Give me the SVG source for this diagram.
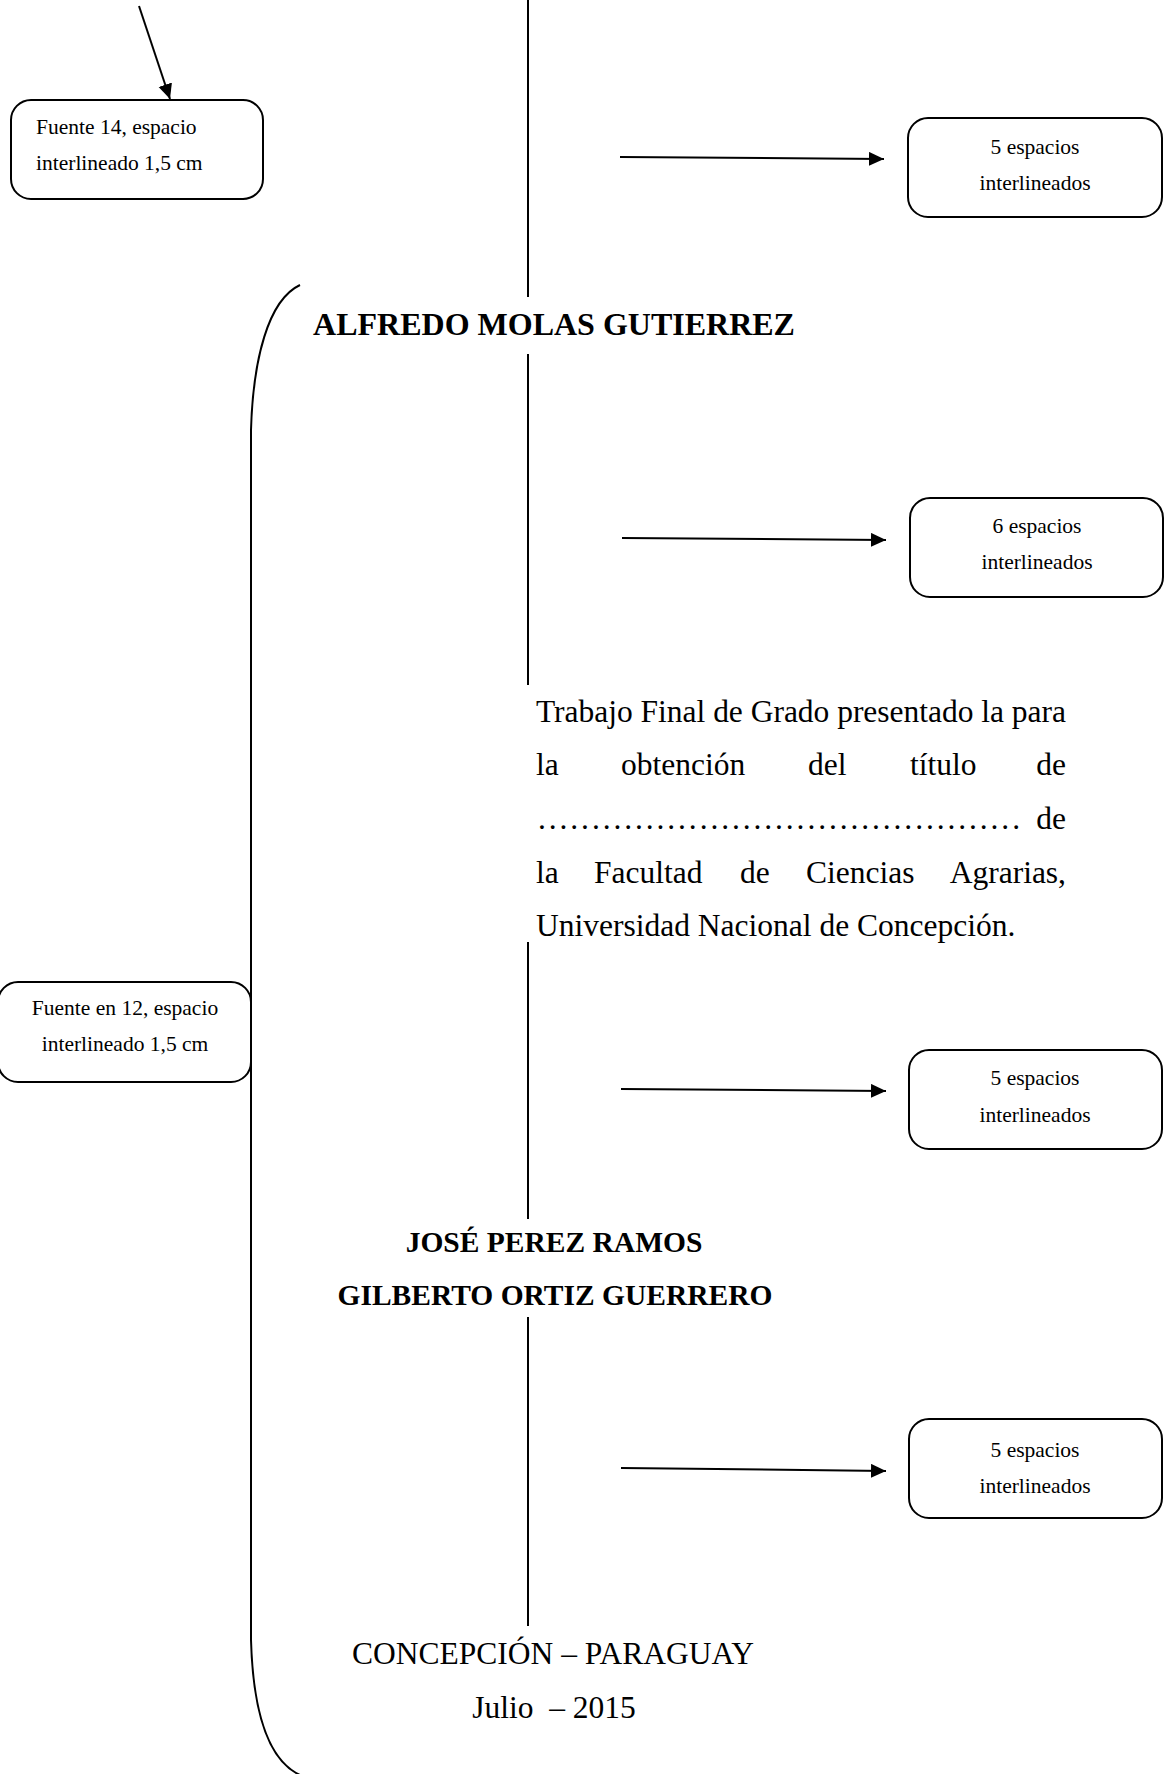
<svg xmlns="http://www.w3.org/2000/svg" width="1168" height="1774" viewBox="0 0 1168 1774">
<defs>
<marker id="ah" markerUnits="userSpaceOnUse" markerWidth="16" markerHeight="15" refX="15" refY="7" orient="auto">
<path d="M0,0 L15,7 L0,14 Z" fill="#000"/>
</marker>
<style>
.box{fill:#fff;stroke:#000;stroke-width:2}
.sm{font-family:"Liberation Serif","Times New Roman",serif;font-size:21.5px;fill:#000}
.c{text-anchor:middle}
.arr{stroke:#000;stroke-width:2;fill:none;marker-end:url(#ah)}
.vl{stroke:#000;stroke-width:2}
.bd{font-family:"Liberation Serif","Times New Roman",serif;font-weight:bold;fill:#000}
.rg{font-family:"Liberation Serif","Times New Roman",serif;font-size:31.5px;fill:#000}
</style>
</defs>
<rect width="1168" height="1774" fill="#fff"/>
<g id="connectors">
<line class="arr" x1="139" y1="6" x2="170" y2="99"/>
<line class="arr" x1="620" y1="157" x2="884" y2="159"/>
<line class="arr" x1="622" y1="538" x2="886" y2="540"/>
<line class="arr" x1="621" y1="1089" x2="886" y2="1091"/>
<line class="arr" x1="621" y1="1468" x2="886" y2="1471"/>
<line class="vl" x1="528" y1="0" x2="528" y2="297"/>
<line class="vl" x1="528" y1="354" x2="528" y2="685"/>
<line class="vl" x1="528" y1="942" x2="528" y2="1219"/>
<line class="vl" x1="528" y1="1317" x2="528" y2="1626"/>
<path d="M300,285 C268,300 253,360 251,430 L251,1640 C253,1710 268,1760 300,1775" fill="none" stroke="#000" stroke-width="2"/>
</g>
<g id="box-fuente14">
<rect class="box" x="11" y="100" width="252" height="99" rx="20"/>
<text class="sm" x="36" y="134">Fuente 14, espacio</text>
<text class="sm" x="36" y="170">interlineado 1,5 cm</text>
</g>
<g id="box-5esp-1">
<rect class="box" x="908" y="118" width="254" height="99" rx="20"/>
<text class="sm c" x="1035" y="154">5 espacios</text>
<text class="sm c" x="1035" y="190">interlineados</text>
</g>
<g id="title-alfredo">
<text class="bd" x="554" y="335" font-size="32" text-anchor="middle">ALFREDO MOLAS GUTIERREZ</text>
</g>
<g id="box-6esp">
<rect class="box" x="910" y="498" width="253" height="99" rx="20"/>
<text class="sm c" x="1037" y="533">6 espacios</text>
<text class="sm c" x="1037" y="569">interlineados</text>
</g>
<g id="paragraph">
<text class="rg" x="536" y="722" textLength="530" lengthAdjust="spacing">Trabajo Final de Grado presentado la para</text>
<text class="rg" x="536" y="775">la</text>
<text class="rg" x="621" y="775">obtención</text>
<text class="rg" x="808" y="775">del</text>
<text class="rg" x="910" y="775">título</text>
<text class="rg" x="1066" y="775" text-anchor="end">de</text>
<text class="rg" x="538" y="829" textLength="482" lengthAdjust="spacing">.............................................</text>
<text class="rg" x="1066" y="829" text-anchor="end">de</text>
<text class="rg" x="536" y="883">la</text>
<text class="rg" x="594" y="883">Facultad</text>
<text class="rg" x="740" y="883">de</text>
<text class="rg" x="806" y="883">Ciencias</text>
<text class="rg" x="1066" y="883" text-anchor="end">Agrarias,</text>
<text class="rg" x="536" y="936">Universidad Nacional de Concepción.</text>
</g>
<g id="box-fuente12">
<rect class="box" x="-2" y="982" width="253" height="100" rx="20"/>
<text class="sm c" x="125" y="1015">Fuente en 12, espacio</text>
<text class="sm c" x="125" y="1051">interlineado 1,5 cm</text>
</g>
<g id="box-5esp-2">
<rect class="box" x="909" y="1050" width="253" height="99" rx="20"/>
<text class="sm c" x="1035" y="1085">5 espacios</text>
<text class="sm c" x="1035" y="1122">interlineados</text>
</g>
<g id="authors">
<text class="bd" x="554" y="1252" font-size="29.5" text-anchor="middle">JOSÉ PEREZ RAMOS</text>
<text class="bd" x="555" y="1305" font-size="29.5" text-anchor="middle">GILBERTO ORTIZ GUERRERO</text>
</g>
<g id="box-5esp-3">
<rect class="box" x="909" y="1419" width="253" height="99" rx="20"/>
<text class="sm c" x="1035" y="1457">5 espacios</text>
<text class="sm c" x="1035" y="1493">interlineados</text>
</g>
<g id="footer">
<text class="rg" x="553" y="1664" text-anchor="middle">CONCEPCIÓN – PARAGUAY</text>
<text class="rg" x="554" y="1718" text-anchor="middle" xml:space="preserve">Julio  – 2015</text>
</g>
</svg>
